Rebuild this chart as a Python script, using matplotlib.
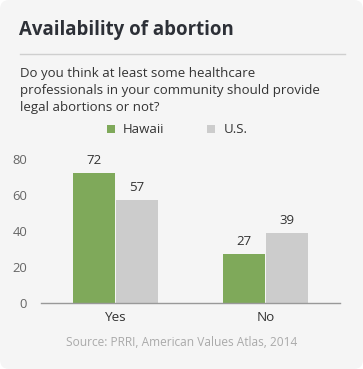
import matplotlib.pyplot as plt
from matplotlib.patches import FancyBboxPatch
import numpy as np

plt.rcParams["font.family"] = ["Open Sans", "DejaVu Sans"]

# data
categories = ["Yes", "No"]
hawaii = [72, 27]
us = [57, 39]
yticks = [0, 20, 40, 60, 80]

GREEN = "#7fa95a"
GREY = "#cccccc"
BG = "#f5f5f5"

fig = plt.figure(figsize=(3.63, 3.69), dpi=100)
fig.patch.set_facecolor("white")
card = FancyBboxPatch((0, 0), 1, 1, boxstyle="round,pad=0,rounding_size=0.025",
                      transform=fig.transFigure, facecolor=BG, edgecolor="none", zorder=-10)
fig.patches.append(card)

W, H = 363, 369

def fy(y):
    return 1 - y / H

def fx(x):
    return x / W

# title + rule
fig.text(fx(19), fy(30), "Availability of abortion", fontsize=13.4, fontweight="bold",
         color="#2d3037", va="center", ha="left")
fig.add_artist(plt.Line2D([fx(20), fx(345)], [fy(53.5), fy(53.5)], color="#cfcfcf", lw=1))

fig.text(fx(20), fy(67), "Do you think at least some healthcare\n"
         "professionals in your community should provide\nlegal abortions or not?",
         fontsize=9.5, color="#333333", va="top", ha="left", linespacing=1.38)

ax = fig.add_axes([fx(41), fy(303), fx(340) - fx(41), fy(159) - fy(303)])
ax.set_facecolor("none")

x = np.arange(len(categories))
w = 0.28
b1 = ax.bar(x - w / 2 - 0.003, hawaii, w, color=GREEN, label="Hawaii")
b2 = ax.bar(x + w / 2 + 0.003, us, w, color=GREY, label="U.S.")

for bars in (b1, b2):
    for r in bars:
        ax.text(r.get_x() + r.get_width() / 2, r.get_height() + 3.3, f"{int(r.get_height())}",
                ha="center", va="bottom", fontsize=9.5, color="#333333", clip_on=False)

ax.set_xlim(-0.5, 1.5)
ax.set_ylim(0, 80)
ax.set_yticks(yticks)
ax.set_xticks(x)
ax.set_xticklabels(categories, fontsize=9.7, color="#333333")
ax.tick_params(axis="y", length=0, labelsize=9.4, labelcolor="#666666", pad=10)
ax.tick_params(axis="x", length=0, pad=6)
for s in ["top", "right", "left"]:
    ax.spines[s].set_visible(False)
ax.spines["bottom"].set_color("#999999")
ax.spines["bottom"].set_linewidth(1)

fig.legend(handles=[b1, b2], labels=["Hawaii", "U.S."], loc="center", bbox_to_anchor=(fx(177), fy(130)),
           ncol=2, frameon=False, fontsize=9.5, handlelength=0.6, handleheight=0.6,
           handletextpad=0.6, columnspacing=3.3, labelcolor="#333333")

fig.text(0.5, fy(343), "Source: PRRI, American Values Atlas, 2014", ha="center", va="center",
         fontsize=8.6, color="#aaaaaa")

fig.savefig("out.png", dpi=100, facecolor=fig.get_facecolor())
